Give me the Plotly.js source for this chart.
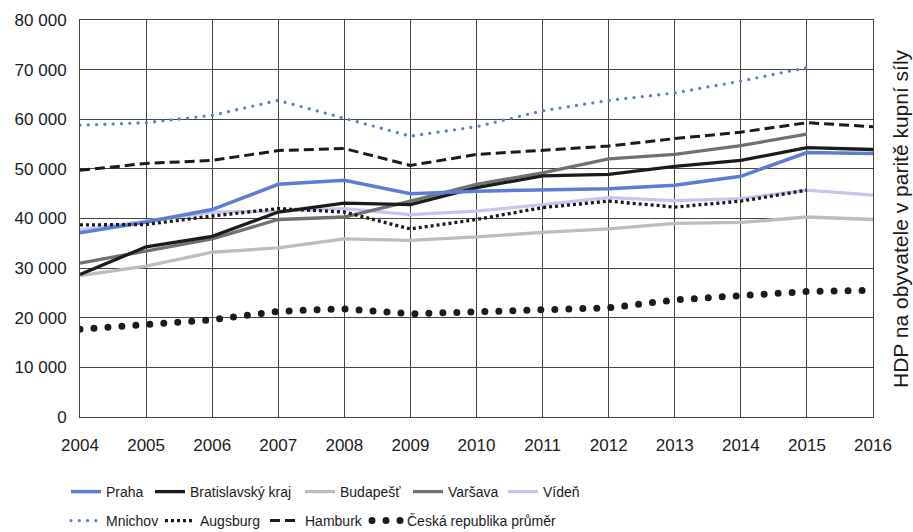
<!DOCTYPE html>
<html>
<head>
<meta charset="utf-8">
<script src="https://cdn.plot.ly/plotly-3.0.1.min.js"></script>
<style>
  html, body { margin: 0; padding: 0; background: #fff; }
  #chart { width: 913px; height: 532px; }
  path[style*="stroke-dasharray: 0px"] { stroke-linecap: round !important; }
</style>
</head>
<body>
<div id="chart"></div>
<script>
const years = [2004, 2005, 2006, 2007, 2008, 2009, 2010, 2011, 2012, 2013, 2014, 2015, 2016];
const praha      = [37100, 39300, 41800, 46900, 47700, 45000, 45500, 45800, 46000, 46700, 48500, 53300, 53100];
const bratislava = [28700, 34300, 36400, 41300, 43100, 42800, 46200, 48600, 48900, 50500, 51700, 54300, 53900];
const budapest   = [28500, 30400, 33200, 34100, 35900, 35600, 36300, 37200, 37900, 39000, 39200, 40300, 39800];
const varsava    = [31000, 33400, 35900, 39800, 40300, 43500, 46900, 49200, 52000, 52900, 54700, 57000, null];
const viden      = [37700, 39500, 41300, 41500, 42000, 40800, 41500, 42800, 44200, 43600, 44000, 45700, 44700];
const mnichov    = [58800, 59300, 60800, 63800, 60200, 56600, 58500, 61700, 63800, 65300, 67700, 70400, null];
const augsburg   = [38700, 38800, 40500, 42000, 41300, 37900, 39800, 42200, 43500, 42300, 43500, 45700, null];
const hamburk    = [49700, 51100, 51700, 53700, 54100, 50700, 52900, 53700, 54600, 56100, 57400, 59300, 58500];
const cr         = [17700, 18600, 19600, 21300, 21800, 20800, 21100, 21600, 22000, 23600, 24300, 25300, 25500];
const yTicks = [0, 10000, 20000, 30000, 40000, 50000, 60000, 70000, 80000];
const axisTitle = 'HDP na obyvatele v paritě kupní síly';

const BLUE = '#5b7ed4', BLACK = '#1b1b1b';
function tr(name, y, color, width, dash, legend) {
  return { x: years, y: y, name: name, type: 'scatter', mode: 'lines',
    line: { color: color, width: width, dash: dash }, legend: legend, connectgaps: false };
}
const data = [
  tr('Vídeň', viden, '#c3c7ef', 3.3, 'solid', 'legend5'),
  tr('Budapešť', budapest, '#bdbdbd', 3.3, 'solid', 'legend3'),
  tr('Varšava', varsava, '#717171', 3.3, 'solid', 'legend4'),
  tr('Bratislavský kraj', bratislava, BLACK, 3.3, 'solid', 'legend2'),
  tr('Praha', praha, BLUE, 3.5, 'solid', 'legend'),
  tr('Mnichov', mnichov, BLUE, 3.3, '0px,8.3px', 'legend6'),
  tr('Augsburg', augsburg, BLACK, 3.3, '3px,3px', 'legend7'),
  tr('Hamburk', hamburk, BLACK, 3, '10px,5px', 'legend8'),
  tr('Česká republika průměr', cr, BLACK, 7, '0px,14px', 'legend9')
];

const plotL = 80, plotW = 793, plotB = 417, plotH = 397;
function lx(textPx) { return (textPx - 40 - plotL) / plotW; }
function ly(centerPx) { return (plotB - centerPx) / plotH; }
const legFont = { family: 'Liberation Sans, Arial, sans-serif', size: 14, color: '#1b1b1b' };
function leg(tx, cy) {
  return { x: lx(tx), y: ly(cy), xanchor: 'left', yanchor: 'middle', orientation: 'h',
    font: legFont, bgcolor: 'rgba(0,0,0,0)', borderwidth: 0 };
}

const layout = {
  width: 913, height: 532,
  margin: { l: 80, r: 40, t: 20, b: 115, autoexpand: false },
  paper_bgcolor: '#fff', plot_bgcolor: '#fff',
  separators: ', ',
  font: { family: 'Liberation Sans, Arial, sans-serif', size: 17, color: '#1b1b1b' },
  xaxis: {
    range: [2004, 2016], tickvals: years, tickformat: 'd',
    showgrid: true, gridcolor: '#444', gridwidth: 1,
    showline: true, linecolor: '#444', linewidth: 1, mirror: true,
    zeroline: false, ticks: '', ticklabelstandoff: 13,
    tickfont: { size: 17, color: '#1b1b1b' }
  },
  yaxis: {
    range: [0, 80000], tickvals: yTicks, tickformat: ',',
    showgrid: true, gridcolor: '#444', gridwidth: 1,
    showline: true, linecolor: '#444', linewidth: 1, mirror: true,
    zeroline: false, ticks: '', ticklabelstandoff: 9,
    tickfont: { size: 17, color: '#1b1b1b' }
  },
  showlegend: true,
  legend:  leg(106, 492),
  legend2: leg(190, 492),
  legend3: leg(340, 492),
  legend4: leg(448, 492),
  legend5: leg(543, 492),
  legend6: leg(106, 521),
  legend7: leg(200, 521),
  legend8: leg(305, 521),
  legend9: leg(407, 521),
  annotations: [{
    text: axisTitle, xref: 'paper', yref: 'paper',
    x: (901 - plotL) / plotW, y: ly(219), xanchor: 'center', yanchor: 'middle',
    textangle: -90, showarrow: false,
    font: { family: 'Liberation Sans, Arial, sans-serif', size: 21, color: '#1b1b1b' }
  }]
};

Plotly.newPlot('chart', data, layout, { displayModeBar: false, staticPlot: true });
</script>
</body>
</html>
